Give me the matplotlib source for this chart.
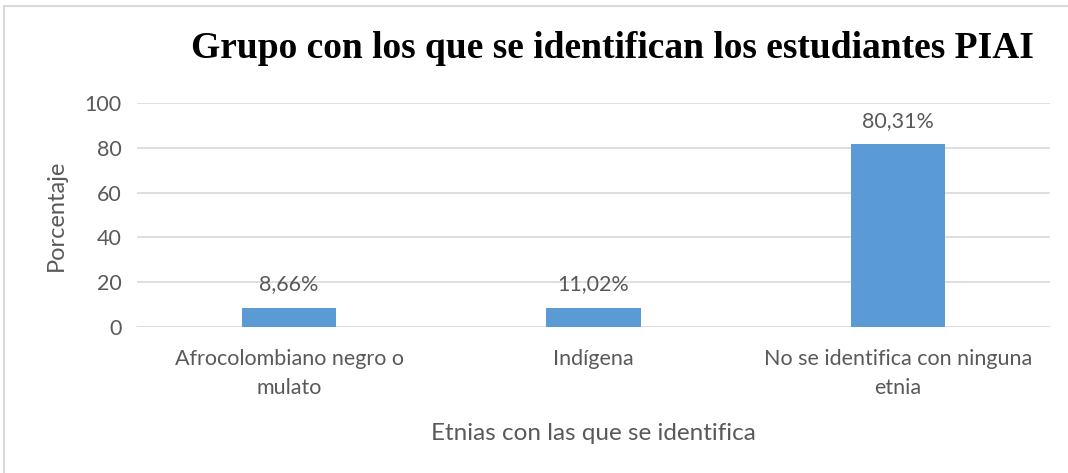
import numpy as np
import matplotlib.pyplot as plt
from matplotlib.patches import Rectangle

# data
categorias = ['Afrocolombiano negro o\nmulato', 'Indígena',
              'No se identifica con ninguna\netnia']
alturas = [8.66, 8.7, 81.6]
etiquetas = ['8,66%', '11,02%', '80,31%']
yticks = [0, 20, 40, 60, 80, 100]

gris = '#595959'
azul = '#5B9BD5'

fig = plt.figure(figsize=(10.68, 4.73), dpi=100)
ax = fig.add_axes([137 / 1068, 1 - 327 / 473, 913 / 1068, 224 / 473])

index = np.arange(len(categorias))
ax.bar(index, alturas, 0.31, color=azul, zorder=3)

for i, lab in enumerate(etiquetas):
    # label sits above the bar, centred ~24px over its top
    ax.annotate(lab, (index[i], alturas[i]), xytext=(0, 17),
                textcoords='offset points', ha='center', va='center',
                fontsize=15.5, color=gris, family='Lato')

ax.set_xlim(-0.5, len(categorias) - 0.5)
ax.set_ylim(0, 100)
ax.set_yticks(yticks)
ax.set_xticks(index)
ax.set_xticklabels(categorias, fontsize=15.5, color=gris, family='Lato',
                   linespacing=1.55)
for t in ax.get_yticklabels():
    t.set_fontsize(15.5)
    t.set_color(gris)
    t.set_family('Lato')

ax.grid(axis='y', color='#D9D9D9', linewidth=1.2, zorder=0)
for s in ax.spines.values():
    s.set_visible(False)
ax.tick_params(length=0)
ax.tick_params(axis='y', pad=11)
ax.tick_params(axis='x', pad=16)

ax.set_ylabel('Porcentaje', fontsize=17, color=gris, family='Lato', labelpad=13)
ax.set_xlabel('Etnias con las que se identifica', fontsize=17.5, color=gris,
              family='Lato', labelpad=18)

fig.text(612 / 1068, 1 - 49 / 473, 'Grupo con los que se identifican los estudiantes PIAI',
         ha='center', va='center', fontsize=27, fontweight='bold',
         family='Liberation Serif', color='black')

# thin border of the chart area
fig.patches.append(Rectangle((4 / 1068, -0.1), 1.2, 1 - 6 / 473 + 0.1,
                             transform=fig.transFigure, fill=False,
                             edgecolor='#D9D9D9', linewidth=1.5))

fig.savefig('out.png', dpi=100)
